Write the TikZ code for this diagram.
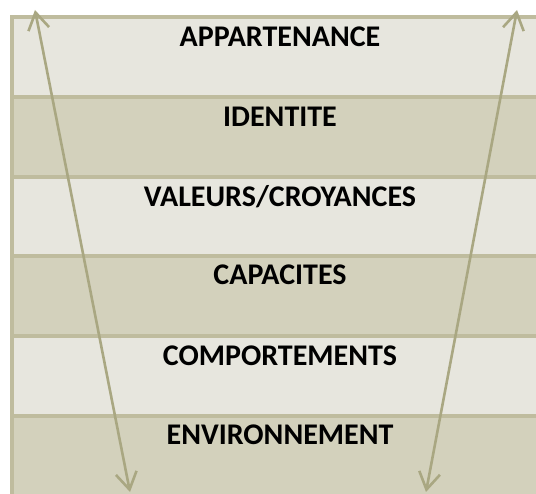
\documentclass[tikz,border=0pt]{standalone}
\usepackage{fontspec}
\setmainfont{Carlito}
\usetikzlibrary{arrows.meta}
\definecolor{bordc}{HTML}{BFBC9E}
\definecolor{lightc}{HTML}{E7E6DE}
\definecolor{darkc}{HTML}{D3D1BC}
\definecolor{arrc}{HTML}{A9A782}
\begin{document}
\begin{tikzpicture}[x=1pt,y=-1pt,
  lbl/.style={font=\fontsize{30}{34}\selectfont\bfseries, text=black, inner sep=0pt, anchor=center},
  band/.style={draw=bordc, line width=3.2pt},
  arr/.style={draw=arrc, line width=2.6pt, {Straight Barb[length=17pt,width=21pt,line width=2.6pt]}-{Straight Barb[length=17pt,width=21pt,line width=2.6pt]}}]
\useasboundingbox (0,0) rectangle (536,494);
\begin{scope}
\clip (0,0) rectangle (536,494);
\fill[lightc] (12,17) rectangle (545,97);
\fill[darkc] (12,97) rectangle (545,177);
\fill[lightc] (12,177) rectangle (545,256);
\fill[darkc] (12,256) rectangle (545,336);
\fill[lightc] (12,336) rectangle (545,416);
\fill[darkc] (12,416) rectangle (545,500);
\draw[band] (12,505) -- (12,17) -- (545,17);
\foreach \yy in {97,177,256,336,416} \draw[band] (12,\yy) -- (545,\yy);
\end{scope}
\node[lbl] (l1) at (280,37) {APPARTENANCE};
\node[lbl] (l2) at (280,117) {IDENTITE};
\node[lbl] (l3) at (280,197) {VALEURS/CROYANCES};
\node[lbl] (l4) at (280,275) {CAPACITES};
\node[lbl] (l5) at (280,356) {COMPORTEMENTS};
\node[lbl] (l6) at (280,435) {ENVIRONNEMENT};
\coordinate (lt) at (35,10);
\coordinate (lb) at (130,492);
\coordinate (rt) at (517,10);
\coordinate (rb) at (426,492);
\draw[arr] (lb) -- (lt);
\draw[arr] (rb) -- (rt);
\end{tikzpicture}
\end{document}
